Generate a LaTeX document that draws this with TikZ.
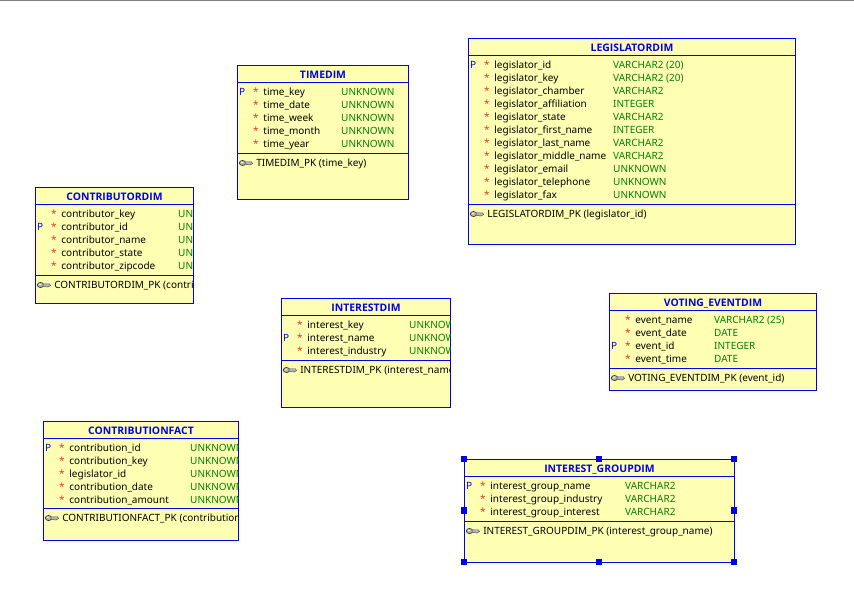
\documentclass[tikz,border=0pt]{standalone}
\usepackage{fontspec}
\setmainfont{Noto Sans}
\newfontfamily\titlefont{Open Sans}
\definecolor{boxfill}{HTML}{FFFFB4}
\definecolor{boxblue}{HTML}{0000F0}
\definecolor{typegreen}{HTML}{007F00}
\definecolor{starred}{HTML}{F03020}
\tikzset{
  x=1pt,y=-1pt,
  erbox/.style={draw=boxblue,fill=boxfill,line width=1pt,inner sep=0,outer sep=0,anchor=north west},
  divider/.style={draw=boxblue,line width=1pt},
  title/.style={text=boxblue,font=\fontsize{10.4}{12}\titlefont\bfseries,inner sep=0,anchor=base},
  cell/.style={font=\fontsize{10}{12}\selectfont,inner sep=0,anchor=base west},
  pflag/.style={cell,text=boxblue},
  star/.style={cell,text=starred},
  colname/.style={cell,text=black},
  coltype/.style={cell,text=typegreen},
  handle/.style={fill=boxblue,draw=none,minimum size=6.5pt,inner sep=0,xshift=-0.5pt,yshift=0.5pt},
}
% id, title, x1, y1, width, height, header-line y, separator y, pk text; then type column x, rows
\newcommand{\erentity}[9]{%
  \def\eid{#1}\def\ex{#3}\def\ey{#4}%
  \pgfmathsetmacro{\exr}{#3+#5}%
  \pgfmathsetmacro{\eyb}{#4+#6}%
  \pgfmathsetmacro{\exm}{#3+#5/2}%
  \node[erbox,minimum width=#5pt,minimum height=#6pt] (#1) at (#3,#4) {};
  \node[title] (#1title) at (\exm,#4+13.2) {#2};
  \draw[divider] (#3,#7) -- (\exr,#7);
  \draw[divider] (#3,#8) -- (\exr,#8);
  \def\erowy{#7}\def\ekeyy{#8}\def\ept{#9}%
  \erentitycont
}
\newcommand{\erentitycont}[2]{%
  \begin{scope}
    \clip (\ex,\ey) rectangle (\exr,\eyb);
    \foreach \flag/\colnm/\coltp [count=\i from 0] in {#2} {
      \pgfmathsetmacro{\ry}{\erowy+13+13*\i}
      \if\flag y\node[pflag] (\eid p\i) at (\ex+1.5,\ry) {P};\fi
      \node[star] (\eid s\i) at (\ex+15.5,\ry) {*};
      \node[colname] (\eid n\i) at (\ex+25.7,\ry) {\colnm};
      \node[coltype] (\eid t\i) at (#1,\ry) {\coltp};
    }
    \node[colname] (\eid pk) at (\ex+18.6,\ekeyy+12.5) {\ept};
    \begin{scope}[shift={(\ex+1.5,\ekeyy+9.5)}]
      \fill[gray!60,draw=black!80,line width=0.6pt] (3.5,0) ellipse (3.2 and 2.6);
      \fill[gray!55,draw=black!70,line width=0.5pt] (6,-1.2) -- (12.5,-1.2) -- (13.5,0.5) -- (11,2) -- (6,1.4) -- cycle;
      \fill[boxfill] (1.5,-0.8) rectangle (3.6,0.2);
    \end{scope}
  \end{scope}
}
\begin{document}
\begin{tikzpicture}
\useasboundingbox (0,0) rectangle (854,597);
\fill[white] (0,0) rectangle (854,597);
\coordinate (topl) at (0,0.5);
\coordinate (topr) at (854,0.5);
\draw[gray,line width=1pt] (topl) -- (topr);

\erentity{timedim}{TIMEDIM}{237.5}{65.5}{171}{134}{82.5}{153.5}{TIMEDIM\_PK (time\_key)}{341}{
  y/time\_key/UNKNOWN, n/time\_date/UNKNOWN, n/time\_week/UNKNOWN, n/time\_month/UNKNOWN, n/time\_year/UNKNOWN}

\erentity{legislatordim}{LEGISLATORDIM}{468.5}{38.5}{327}{206}{55.5}{204.5}{LEGISLATORDIM\_PK (legislator\_id)}{613}{
  y/legislator\_id/VARCHAR2 (20), n/legislator\_key/VARCHAR2 (20), n/legislator\_chamber/VARCHAR2,
  n/legislator\_affiliation/INTEGER, n/legislator\_state/VARCHAR2, n/legislator\_first\_name/INTEGER,
  n/legislator\_last\_name/VARCHAR2, n/legislator\_middle\_name/VARCHAR2, n/legislator\_email/UNKNOWN,
  n/legislator\_telephone/UNKNOWN, n/legislator\_fax/UNKNOWN}

\erentity{contributordim}{CONTRIBUTORDIM}{35.5}{187.5}{158}{116}{204.5}{275.5}{CONTRIBUTORDIM\_PK (contributor\_key)}{178}{
  n/contributor\_key/UNKNOWN, y/contributor\_id/UNKNOWN, n/contributor\_name/UNKNOWN,
  n/contributor\_state/UNKNOWN, n/contributor\_zipcode/UNKNOWN}

\erentity{interestdim}{INTERESTDIM}{281.5}{298.5}{169}{109}{315.5}{360.5}{INTERESTDIM\_PK (interest\_name)}{409}{
  n/interest\_key/UNKNOWN, y/interest\_name/UNKNOWN, n/interest\_industry/UNKNOWN}

\erentity{votingdim}{VOTING\_EVENTDIM}{609.5}{293.5}{207}{97}{310.5}{368.5}{VOTING\_EVENTDIM\_PK (event\_id)}{714}{
  n/event\_name/VARCHAR2 (25), n/event\_date/DATE, y/event\_id/INTEGER, n/event\_time/DATE}

\erentity{contribfact}{CONTRIBUTIONFACT}{43.5}{421.5}{195}{119}{438.5}{508.5}{CONTRIBUTIONFACT\_PK (contribution\_id)}{190}{
  y/contribution\_id/UNKNOWN, n/contribution\_key/UNKNOWN, n/legislator\_id/UNKNOWN,
  n/contribution\_date/UNKNOWN, n/contribution\_amount/UNKNOWN}

\erentity{groupdim}{INTEREST\_GROUPDIM}{464.5}{459.5}{270}{103}{476.5}{521.5}{INTEREST\_GROUPDIM\_PK (interest\_group\_name)}{625}{
  y/interest\_group\_name/VARCHAR2, n/interest\_group\_industry/VARCHAR2, n/interest\_group\_interest/VARCHAR2}

\foreach \a in {north west,north,north east,west,east,south west,south,south east}
  \node[handle] at (groupdim.\a) {};
\end{tikzpicture}
\end{document}
